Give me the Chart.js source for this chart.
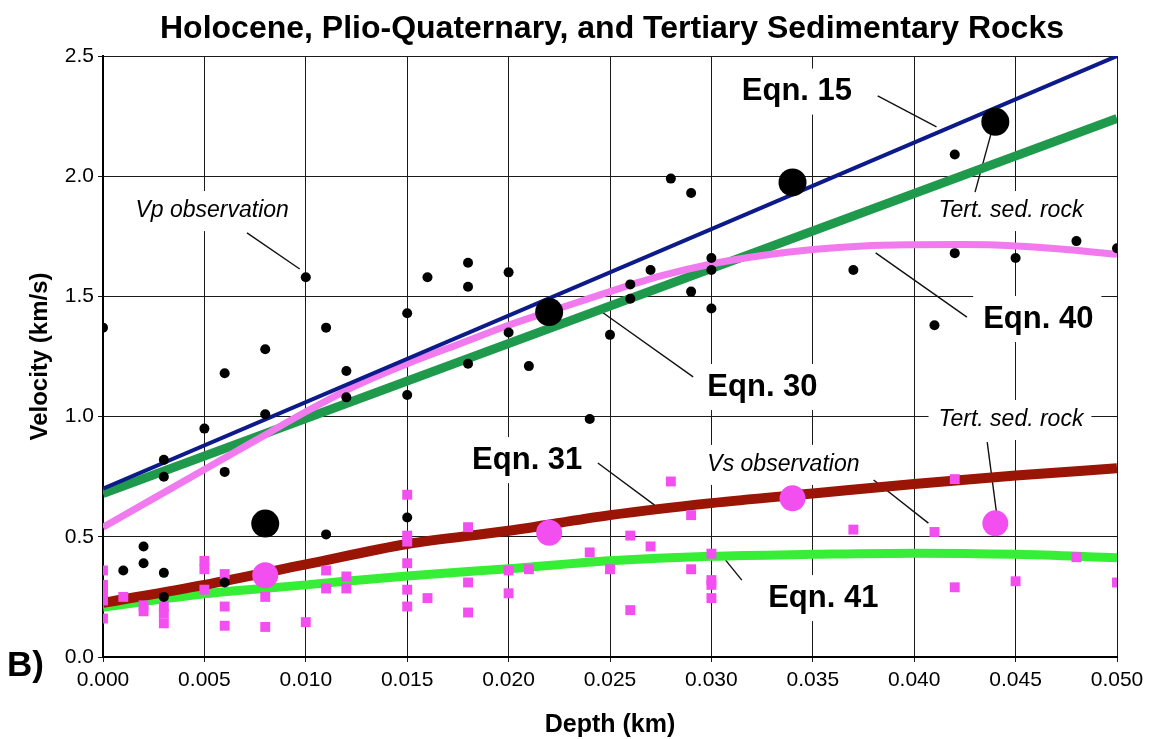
<!DOCTYPE html>
<html>
<head>
<meta charset="utf-8">
<title>Holocene, Plio-Quaternary, and Tertiary Sedimentary Rocks</title>
<script src="https://cdn.jsdelivr.net/npm/chart.js@4.4.0/dist/chart.umd.min.js"></script>
<style>
  html, body { margin: 0; padding: 0; background: #fff; }
  #wrap { width: 1155px; height: 739px; }
</style>
</head>
<body>
<div id="wrap"><canvas id="velocityChart" width="1155" height="739"></canvas></div>
<script>
// Vp observations (black dots)
const vpDepth = [0.000, 0.001, 0.002, 0.002, 0.003, 0.003, 0.003, 0.003, 0.005, 0.006, 0.006, 0.006,
  0.008, 0.008, 0.010, 0.011, 0.011, 0.012, 0.012, 0.015, 0.015, 0.015, 0.016, 0.018, 0.018, 0.018,
  0.020, 0.020, 0.021, 0.024, 0.025, 0.026, 0.026, 0.027, 0.028, 0.029, 0.029, 0.030, 0.030, 0.030,
  0.037, 0.041, 0.042, 0.042, 0.045, 0.048, 0.050];
const vpVelocity = [1.37, 0.36, 0.46, 0.39, 0.82, 0.75, 0.35, 0.25, 0.95, 1.18, 0.77, 0.31,
  1.28, 1.01, 1.58, 1.37, 0.51, 1.19, 1.08, 1.43, 1.09, 0.58, 1.58, 1.64, 1.54, 1.22,
  1.60, 1.35, 1.21, 0.99, 1.34, 1.55, 1.49, 1.61, 1.99, 1.93, 1.52, 1.66, 1.61, 1.45,
  1.61, 1.38, 2.09, 1.68, 1.66, 1.73, 1.70];

// Vs observations (pink squares)
const vsDepth = [0.000, 0.000, 0.000, 0.000, 0.000, 0.001, 0.002, 0.002, 0.003, 0.003, 0.003,
  0.005, 0.005, 0.005, 0.006, 0.006, 0.006, 0.008, 0.008, 0.010, 0.011, 0.011, 0.012, 0.012,
  0.015, 0.015, 0.015, 0.015, 0.015, 0.015, 0.016, 0.018, 0.018, 0.018, 0.020, 0.020, 0.021,
  0.024, 0.025, 0.026, 0.026, 0.027, 0.028, 0.029, 0.029, 0.030, 0.030, 0.030, 0.030,
  0.037, 0.041, 0.042, 0.042, 0.045, 0.048, 0.050];
const vsVelocity = [0.36, 0.30, 0.27, 0.235, 0.16, 0.25, 0.215, 0.19, 0.21, 0.18, 0.14,
  0.40, 0.365, 0.28, 0.345, 0.21, 0.13, 0.25, 0.125, 0.145, 0.36, 0.285, 0.335, 0.285,
  0.675, 0.505, 0.48, 0.39, 0.28, 0.21, 0.245, 0.54, 0.31, 0.185, 0.36, 0.265, 0.365,
  0.435, 0.365, 0.505, 0.195, 0.46, 0.73, 0.59, 0.365, 0.43, 0.32, 0.30, 0.245,
  0.53, 0.52, 0.74, 0.29, 0.315, 0.415, 0.31];

// Tertiary sedimentary rock (large symbols)
const tertDepth = [0.008, 0.022, 0.034, 0.044];
const tertVp = [0.555, 1.435, 1.974, 2.226];
const tertVs = [0.34, 0.517, 0.66, 0.556];

// Regression curves
const straightDepth = [0.000, 0.050];
const eqn15 = [0.70, 2.50];
const eqn30 = [0.68, 2.24];

const eqn40Depth = [0.000, 0.0025, 0.005, 0.0075, 0.010, 0.0125, 0.015, 0.0175, 0.020, 0.0225,
  0.025, 0.0275, 0.030, 0.0325, 0.035, 0.0375, 0.040, 0.0425, 0.045, 0.0475, 0.050];
const eqn40 = [0.54, 0.66, 0.78, 0.90, 1.02, 1.13, 1.22, 1.30, 1.38, 1.45,
  1.52, 1.585, 1.635, 1.67, 1.695, 1.71, 1.715, 1.716, 1.71, 1.695, 1.675];

const vsCurveDepth = [0.000, 0.005, 0.010, 0.015, 0.020, 0.025, 0.030, 0.035, 0.040, 0.045, 0.050];
const eqn31 = [0.225, 0.30, 0.385, 0.47, 0.525, 0.59, 0.64, 0.68, 0.72, 0.755, 0.785];
const eqn41 = [0.207, 0.263, 0.30, 0.337, 0.367, 0.40, 0.419, 0.427, 0.432, 0.427, 0.413];

// Tick labels
const xTickLabels = ["0.000", "0.005", "0.010", "0.015", "0.020", "0.025",
  "0.030", "0.035", "0.040", "0.045", "0.050"];
const yTickLabels = ["0.0", "0.5", "1.0", "1.5", "2.0", "2.5"];

const chartTitle = "Holocene, Plio-Quaternary, and Tertiary Sedimentary Rocks";

const FAMILY = '"Liberation Sans", Arial, Helvetica, sans-serif';
const BOLD_LABEL = `bold 31px ${FAMILY}`;
const ITALIC_LABEL = `italic 23px ${FAMILY}`;

function toPoints(xs, ys) {
  return xs.map((x, i) => ({ x: x, y: ys[i] }));
}

// Callout text, placed in data units (left edge, vertical centre)
const callouts = [
  { text: "Eqn. 15", x: 0.0315, y: 2.352, font: BOLD_LABEL, h: 24 },
  { text: "Eqn. 30", x: 0.0298, y: 1.123, font: BOLD_LABEL, h: 24 },
  { text: "Eqn. 40", x: 0.0434, y: 1.406, font: BOLD_LABEL, h: 24 },
  { text: "Eqn. 31", x: 0.0182, y: 0.819, font: BOLD_LABEL, h: 24 },
  { text: "Eqn. 41", x: 0.0328, y: 0.245, font: BOLD_LABEL, h: 24 },
  { text: "Vp observation", x: 0.0016, y: 1.855, font: ITALIC_LABEL, h: 18 },
  { text: "Tert. sed. rock", x: 0.0412, y: 1.855, font: ITALIC_LABEL, h: 18 },
  { text: "Vs observation", x: 0.0298, y: 0.799, font: ITALIC_LABEL, h: 18 },
  { text: "Tert. sed. rock", x: 0.0412, y: 0.986, font: ITALIC_LABEL, h: 18 },
];

// Leader lines from each callout to its curve / symbol
const leaders = [
  [0.0382, 2.334, 0.0411, 2.205],
  [0.0071, 1.764, 0.0097, 1.614],
  [0.0430, 1.934, 0.0438, 2.180],
  [0.0426, 1.414, 0.0381, 1.681],
  [0.0291, 1.165, 0.0246, 1.435],
  [0.0244, 0.807, 0.0272, 0.632],
  [0.0380, 0.736, 0.0407, 0.557],
  [0.0436, 0.894, 0.0441, 0.574],
  [0.0307, 0.403, 0.0315, 0.320],
];

const calloutPlugin = {
  id: "callouts",
  beforeDatasetsDraw(chart) {
    const { ctx } = chart;
    const xs = chart.scales.x;
    const ys = chart.scales.y;
    ctx.save();

    // white boxes behind the text hide the grid
    callouts.forEach((c) => {
      ctx.font = c.font;
      const px = xs.getPixelForValue(c.x);
      const py = ys.getPixelForValue(c.y);
      const w = ctx.measureText(c.text).width;
      ctx.fillStyle = "#fff";
      ctx.fillRect(px - 10, py - c.h / 2 - 11, w + 18, c.h + 22);
    });

    ctx.strokeStyle = "#111";
    ctx.lineWidth = 1.4;
    leaders.forEach(([x1, y1, x2, y2]) => {
      ctx.beginPath();
      ctx.moveTo(xs.getPixelForValue(x1), ys.getPixelForValue(y1));
      ctx.lineTo(xs.getPixelForValue(x2), ys.getPixelForValue(y2));
      ctx.stroke();
    });

    ctx.fillStyle = "#000";
    ctx.textAlign = "left";
    ctx.textBaseline = "middle";
    callouts.forEach((c) => {
      ctx.font = c.font;
      ctx.fillText(c.text, xs.getPixelForValue(c.x), ys.getPixelForValue(c.y));
    });
    ctx.restore();
  },
  afterDraw(chart) {
    const { ctx } = chart;
    ctx.save();
    ctx.fillStyle = "#000";
    ctx.textBaseline = "alphabetic";

    // title, centred a little right of the canvas centre like the original
    ctx.font = `bold 32px ${FAMILY}`;
    ctx.textAlign = "center";
    ctx.fillText(chartTitle, 612, 38);

    // panel letter
    ctx.font = `bold 35px ${FAMILY}`;
    ctx.textAlign = "left";
    ctx.fillText("B)", 7, 676);
    ctx.restore();
  },
};

const ctx = document.getElementById("velocityChart");

new Chart(ctx, {
  type: "scatter",
  data: {
    datasets: [
      {
        label: "Tert. sed. rock Vp",
        data: toPoints(tertDepth, tertVp),
        pointRadius: 14,
        pointBackgroundColor: "#000",
        pointBorderWidth: 0,
      },
      {
        label: "Tert. sed. rock Vs",
        data: toPoints(tertDepth, tertVs),
        pointRadius: 13,
        pointBackgroundColor: "#f34ff0",
        pointBorderWidth: 0,
      },
      {
        label: "Vp observation",
        data: toPoints(vpDepth, vpVelocity),
        pointRadius: 5,
        pointBackgroundColor: "#000",
        pointBorderWidth: 0,
      },
      {
        label: "Vs observation",
        data: toPoints(vsDepth, vsVelocity),
        pointStyle: "rect",
        pointRadius: 7,
        pointBackgroundColor: "#f34ff0",
        pointBorderWidth: 0,
      },
      {
        label: "Eqn. 15",
        data: toPoints(straightDepth, eqn15),
        showLine: true,
        borderColor: "#0c1a8a",
        borderWidth: 4,
        pointRadius: 0,
      },
      {
        label: "Eqn. 40",
        data: toPoints(eqn40Depth, eqn40),
        showLine: true,
        borderColor: "#f07aee",
        borderWidth: 7,
        pointRadius: 0,
        cubicInterpolationMode: "monotone",
      },
      {
        label: "Eqn. 30",
        data: toPoints(straightDepth, eqn30),
        showLine: true,
        borderColor: "#1f9a4c",
        borderWidth: 9,
        pointRadius: 0,
      },
      {
        label: "Eqn. 31",
        data: toPoints(vsCurveDepth, eqn31),
        showLine: true,
        borderColor: "#9a1505",
        borderWidth: 10,
        pointRadius: 0,
        cubicInterpolationMode: "monotone",
      },
      {
        label: "Eqn. 41",
        data: toPoints(vsCurveDepth, eqn41),
        showLine: true,
        borderColor: "#35ee35",
        borderWidth: 9,
        pointRadius: 0,
        cubicInterpolationMode: "monotone",
      },
    ],
  },
  options: {
    responsive: false,
    animation: false,
    layout: { padding: { left: 0, right: 38, top: 56, bottom: 0 } },
    plugins: {
      legend: { display: false },
      tooltip: { enabled: false },
      title: { display: false },
    },
    scales: {
      x: {
        type: "linear",
        min: 0,
        max: 0.05,
        afterFit: (scale) => { scale.height = 82; },
        afterBuildTicks: (scale) => {
          scale.ticks = xTickLabels.map((t) => ({ value: parseFloat(t) }));
        },
        ticks: {
          color: "#000",
          padding: 6,
          font: { family: FAMILY, size: 21 },
          callback: (value, index) => xTickLabels[index],
        },
        grid: { color: "#1a1a1a", lineWidth: 1, tickLength: 5 },
        border: { color: "#000", width: 2 },
        title: {
          display: true,
          text: "Depth (km)",
          color: "#000",
          font: { family: FAMILY, size: 25, weight: "bold", lineHeight: 1.1 },
          padding: { top: 0, bottom: 0 },
        },
      },
      y: {
        type: "linear",
        min: 0,
        max: 2.5,
        afterFit: (scale) => { scale.width = 103; },
        afterBuildTicks: (scale) => {
          scale.ticks = yTickLabels.map((t) => ({ value: parseFloat(t) }));
        },
        ticks: {
          color: "#000",
          padding: 4,
          font: { family: FAMILY, size: 21 },
          callback: (value, index) => yTickLabels[index],
        },
        grid: { color: "#1a1a1a", lineWidth: 1, tickLength: 5 },
        border: { color: "#000", width: 2 },
        title: {
          display: true,
          text: "Velocity (km/s)",
          color: "#000",
          font: { family: FAMILY, size: 24, weight: "bold", lineHeight: 1.2 },
          padding: { top: 26, bottom: 0 },
        },
      },
    },
  },
  plugins: [calloutPlugin],
});
</script>
</body>
</html>
